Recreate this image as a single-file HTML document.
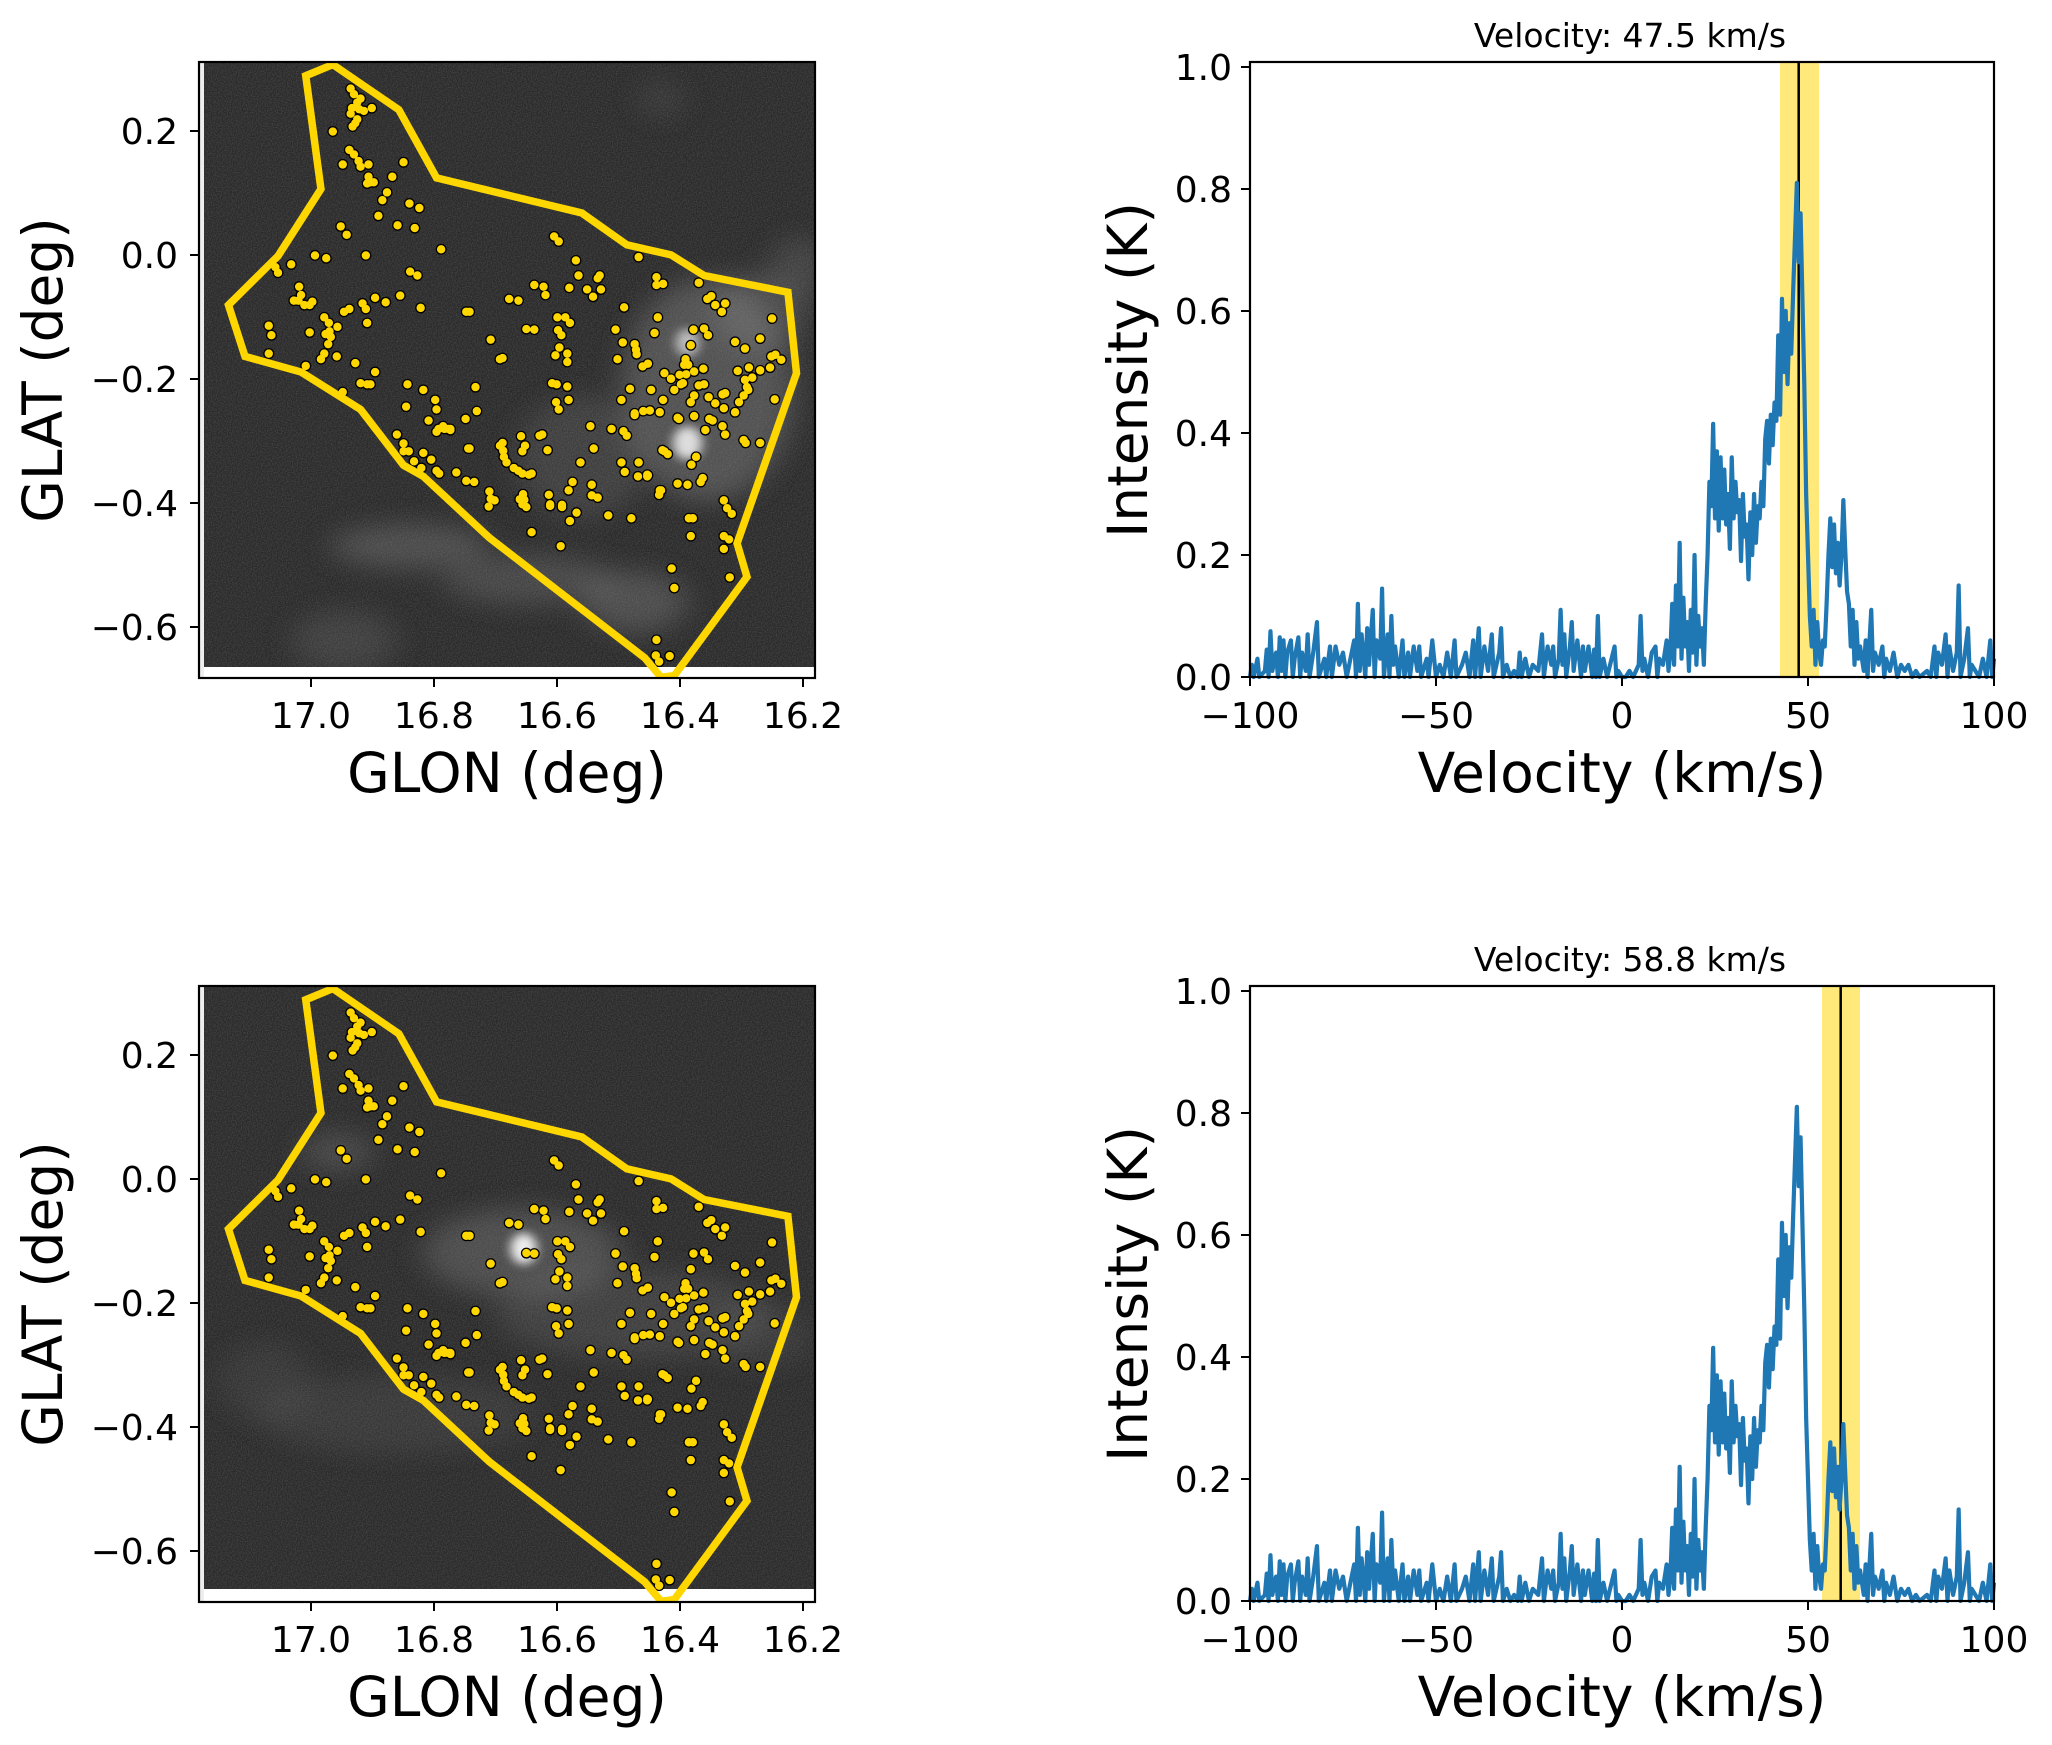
<!DOCTYPE html>
<html><head><meta charset="utf-8"><style>
html,body{margin:0;padding:0;background:#fff}
svg{display:block}
text{font-family:"DejaVu Sans","Liberation Sans",sans-serif;fill:#000}
.t{font-size:36px}
.l{font-size:55px}
.ti{font-size:33px}
</style></head><body>
<svg width="2052" height="1745" viewBox="0 0 2052 1745" xmlns="http://www.w3.org/2000/svg">
<defs>
<clipPath id="cl"><rect x="199" y="62" width="616" height="616"/></clipPath>
<filter id="noise" x="0" y="0" width="100%" height="100%">
<feTurbulence type="fractalNoise" baseFrequency="0.8" numOctaves="1" seed="3"/>
<feColorMatrix type="matrix" values="0 0 0 0 1  0 0 0 0 1  0 0 0 0 1  1.2 0 0 0 -0.4"/>
</filter>
<filter id="blur" x="-50%" y="-50%" width="200%" height="200%"><feGaussianBlur stdDeviation="22"/></filter>
<filter id="blur2" x="-50%" y="-50%" width="200%" height="200%"><feGaussianBlur stdDeviation="8"/></filter>

<path id="dp" d="M530,160h0M535,170h0M540,185h0M545,178h0M532,195h0M543,197h0M530,205h0M540,215h0M537,222h0M533,228h0M550,200h0M562,195h0M503,237h0M528,270h0M535,278h0M542,290h0M518,296h0M545,300h0M557,296h0M557,318h0M560,328h0M555,330h0M565,328h0M593,318h0M610,292h0M585,346h0M578,360h0M619,366h0M634,374h0M572,388h0M601,405h0M627,410h0M515,407h0M524,422h0M667,448h0M476,459h0M493,464h0M553,459h0M440,475h0M416,480h0M620,488h0M631,495h0M605,531h0M636,553h0M567,535h0M583,543h0M548,545h0M553,555h0M520,560h0M528,555h0M455,530h0M452,515h0M451,540h0M460,548h0M444,540h0M468,548h0M472,542h0M490,570h0M497,580h0M498,595h0M500,605h0M496,618h0M490,635h0M485,645h0M509,640h0M406,585h0M410,602h0M406,635h0M462,657h0M555,580h0M537,652h0M567,668h0M545,688h0M555,690h0M560,690h0M518,704h0M616,690h0M614,730h0M640,700h0M658,718h0M660,735h0M660,775h0M648,755h0M672,770h0M663,770h0M681,770h0M610,796h0M610,810h0M626,828h0M637,840h0M710,560h0M705,560h0M742,610h0M760,643h0M756,645h0M719,695h0M721,738h0M704,752h0M708,805h0M770,537h0M784,540h0M808,512h0M822,515h0M825,530h0M796,591h0M808,592h0M838,425h0M845,434h0M843,570h0M855,570h0M849,602h0M862,580h0M844,593h0M858,635h0M861,517h0M875,495h0M871,468h0M888,520h0M907,495h0M897,533h0M904,500h0M909,520h0M931,592h0M944,552h0M960,618h0M962,628h0M990,598h0M995,570h0M993,512h0M993,498h0M1003,510h0M966,462h0M1057,508h0M1070,537h0M1076,532h0M1082,548h0M1092,560h0M1097,545h0M1065,590h0M1049,592h0M1071,602h0M1045,620h0M1037,645h0M1041,655h0M1038,672h0M1050,667h0M1064,662h0M1065,690h0M1057,692h0M1072,713h0M1093,708h0M1097,706h0M1082,724h0M1028,673h0M1015,680h0M1005,670h0M1033,688h0M1030,690h0M1025,750h0M1050,747h0M1073,752h0M1067,772h0M1053,820h0M1046,834h0M1063,858h0M1060,865h0M1010,815h0M1005,810h0M1002,808h0M1040,870h0M1025,868h0M1000,880h0M997,888h0M1095,898h0M1100,912h0M1107,922h0M1095,962h0M1095,985h0M1103,968h0M1104,1036h0M1042,930h0M1045,962h0M1016,1020h0M1020,1055h0M993,1148h0M992,1176h0M997,1187h0M1013,1177h0M1112,614h0M1116,666h0M1133,660h0M1138,678h0M1130,695h0M1118,722h0M1112,740h0M1125,710h0M1150,608h0M1127,626h0M1167,640h0M1173,637h0M1182,646h0M1168,572h0M1165,660h0M1150,665h0M1172,717h0M1128,795h0M1125,790h0M1150,795h0M940,718h0M960,742h0M960,745h0M983,737h0M943,774h0M948,782h0M925,770h0M940,830h0M965,855h0M966,830h0M979,852h0M945,847h0M980,853h0M920,925h0M955,930h0M893,765h0M898,805h0M866,865h0M860,880h0M878,830h0M872,920h0M862,935h0M850,906h0M830,888h0M832,905h0M800,852h0M794,800h0M788,783h0M790,810h0M762,820h0M766,830h0M777,840h0M784,845h0M790,850h0M804,850h0M760,795h0M756,800h0M761,809h0M740,882h0M742,895h0M748,898h0M739,909h0M791,887h0M786,896h0M790,905h0M796,910h0M793,897h0M804,955h0M832,908h0M850,910h0M835,688h0M842,690h0M858,694h0M841,722h0M845,735h0M860,718h0M848,980h0M670,765h0M678,770h0M681,772h0M660,845h0M664,850h0M710,805h0M717,865h0M690,848h0M705,863h0M640,813h0M652,825h0M895,870h0M895,889h0M904,893h0M816,782h0M828,808h0M820,780h0M858,650h0M840,638h0M846,624h0M942,615h0M934,645h0M963,636h0M972,658h0M980,653h0M953,698h0M998,740h0M973,738h0M979,855h0M998,880h0M1027,752h0M1003,718h0M985,700h0M1020,700h0M1035,655h0M1078,755h0M1093,765h0M1097,780h0M1048,930h0M420,490h0M468,597h0M492,600h0M510,587h0M600,780h0M618,810h0M1132,700h0M1127,682h0M1095,733h0M1045,722h0M1050,710h0" fill="none" stroke-linecap="round" vector-effect="non-scaling-stroke"/>

<g id="dots" transform="translate(0.6,-0.7) scale(0.6605,0.558)">
<use href="#dp" stroke="#000" stroke-width="11"/>
<use href="#dp" stroke="#FFD700" stroke-width="8.4"/>
<path d="M462,137 L503,117 L603,198 L660,320 L880,383 L948,440 L1015,458 L1065,495 L1192,525 L1205,670 L1115,975 L1130,1035 L1020,1212 L1000,1215 L975,1180 L740,965 L640,855 L610,835 L545,735 L455,668 L370,640 L345,548 L420,460 L485,340 Z" fill="none" stroke="#FFD700" stroke-width="7.5" stroke-linejoin="miter" vector-effect="non-scaling-stroke"/>
</g>

<g id="imgAxes">
<rect x="199" y="62" width="616" height="616" fill="none" stroke="#000" stroke-width="2.2"/>
<g stroke="#000" stroke-width="2">
<path d="M311,678v9M434,678v9M557,678v9M680,678v9M803,678v9"/>
<path d="M199,131h-9M199,255h-9M199,379h-9M199,503h-9M199,627h-9"/>
</g>
<g class="t" text-anchor="middle">
<text x="311" y="728">17.0</text><text x="434" y="728">16.8</text><text x="557" y="728">16.6</text><text x="680" y="728">16.4</text><text x="803" y="728">16.2</text>
</g>
<g class="t" text-anchor="end">
<text x="178" y="144">0.2</text><text x="178" y="268">0.0</text><text x="178" y="392">−0.2</text><text x="178" y="516">−0.4</text><text x="178" y="640">−0.6</text>
</g>
<text class="l" x="507" y="792" text-anchor="middle">GLON (deg)</text>
<text class="l" transform="translate(62,370) rotate(-90)" text-anchor="middle">GLAT (deg)</text>
</g>

<g id="specBase">
<g transform="matrix(3.72,0,0,-610,1622,677)">
<polyline fill="none" stroke="#1f77b4" stroke-width="4.2" stroke-linejoin="round" vector-effect="non-scaling-stroke" points="-100,0 -99.5,0.02 -99,0 -98,0.03 -97.5,0 -96,0.01 -95.5,0.045 -95,0 -94.5,0.075 -94,0.01 -93,0.04 -92.5,0 -92,0.065 -91.5,0.01 -91,0.06 -90.5,0 -90,0.04 -89,0.06 -88.5,0 -88,0.03 -87,0.065 -86.5,0 -86,0.04 -85,0.01 -84.5,0.07 -84,0 -83,0.04 -82,0.09 -81.5,0 -80,0.03 -79.5,0 -78.5,0.05 -78,0 -77,0.05 -76,0.02 -75,0.04 -74,0 -73,0.03 -72,0.06 -71.5,0 -71,0.12 -70.5,0.01 -70,0.07 -69,0 -68.5,0.08 -68,0.02 -67,0.11 -66.5,0 -66,0.06 -65,0.03 -64.5,0.145 -64,0 -63,0.07 -62.5,0 -62,0.1 -61.5,0.02 -61,0.05 -60,0 -59,0.06 -58.5,0 -57.5,0.04 -57,0 -56,0.05 -55,0.01 -54.5,0.05 -54,0 -52.5,0.03 -52,0 -51,0.06 -50,0 -49,0.02 -48,0 -47,0.04 -46,0 -45,0.06 -44.5,0 -43,0.02 -42,0.04 -41,0 -40,0.06 -39.5,0 -38.5,0.08 -38,0 -37,0.05 -36,0.01 -35,0.07 -34.5,0 -33,0.04 -32.5,0.08 -32,0 -31,0.02 -30,0 -29,0.01 -28,0 -27.5,0.04 -27,0 -26,0.03 -25,0 -24,0.02 -22.5,0.01 -21.5,0.07 -21,0 -20,0.05 -19,0.02 -18.5,0.05 -18,0 -17,0.03 -16.5,0.11 -16,0.02 -15.5,0.07 -15,0 -14,0.05 -13.5,0.09 -13,0.01 -12,0.06 -11,0 -10.5,0.05 -10,0.01 -9,0.05 -8,0 -7.5,0.045 -7,0 -6.5,0.1 -6,0 -5,0.03 -4,0 -2,0.05 -1.5,0 -1,0.01 0,0 1,0 2,0.01 3,0 4.5,0.02 5,0.1 5.5,0.01 6,0.03 7,0 8,0.04 9,0.05 9.5,0 10,0.03 11,0.02 12,0.06 12.5,0.01 13,0.04 13.5,0.12 14,0.02 14.5,0.15 15,0.05 15.5,0.22 16,0.03 16.5,0.13 17,0.05 17.5,0.09 18,0.01 18.5,0.11 19,0.04 19.5,0.2 20,0.02 20.5,0.1 21,0.05 21.5,0.08 22,0.02 22.5,0.12 23,0.2 23.5,0.32 24,0.28 24.5,0.415 25,0.26 25.5,0.37 26,0.24 26.5,0.36 27,0.26 27.5,0.34 28,0.25 28.5,0.3 29,0.21 29.5,0.36 30,0.26 30.5,0.32 31,0.27 31.5,0.29 32,0.19 32.5,0.3 33,0.23 33.5,0.25 34,0.16 34.5,0.27 35,0.2 35.5,0.3 36,0.22 36.5,0.28 37,0.26 37.5,0.32 38,0.28 38.5,0.39 39,0.42 39.5,0.35 40,0.43 40.5,0.38 41,0.45 41.5,0.42 42,0.56 42.5,0.43 43,0.62 43.5,0.5 44,0.6 44.5,0.48 45,0.58 45.5,0.53 46,0.63 46.5,0.72 47,0.81 47.5,0.68 48,0.76 48.5,0.62 49,0.48 49.5,0.3 50,0.2 50.5,0.1 51,0.05 51.5,0.11 52,0.02 52.5,0.09 53,0.04 53.5,0.02 54,0.06 54.5,0.05 55,0.12 55.5,0.2 56,0.26 56.5,0.18 57,0.25 57.5,0.17 58,0.22 58.5,0.15 59,0.2 59.5,0.29 60,0.21 60.5,0.14 61,0.12 61.5,0.05 62,0.11 62.5,0.02 63,0.09 63.5,0.03 64,0.05 65,0.01 65.5,0.06 66,0 67,0.11 67.5,0.01 68,0.04 69,0.02 70,0.05 70.5,0 71,0.03 72,0.01 73,0.04 74,0 75,0.02 76,0.01 77,0.02 78,0 79,0.01 80,0 82,0.01 83,0 84,0.05 84.5,0 85,0.04 86,0.02 87,0.07 87.5,0 88,0.05 89,0.01 90,0.04 90.5,0.15 91,0 92,0.03 93,0.08 93.5,0 94,0.02 96,0 97,0.03 98,0 99,0.06 99.5,0 100,0.03"/>
</g>
<rect x="1250" y="62" width="744" height="615" fill="none" stroke="#000" stroke-width="2.2"/>
<g stroke="#000" stroke-width="2">
<path d="M1250,677v9M1436,677v9M1622,677v9M1808,677v9M1994,677v9"/>
<path d="M1250,677h-9M1250,555h-9M1250,433h-9M1250,311h-9M1250,189h-9M1250,67h-9"/>
</g>
<g class="t" text-anchor="middle">
<text x="1250" y="728">−100</text><text x="1436" y="728">−50</text><text x="1622" y="728">0</text><text x="1808" y="728">50</text><text x="1994" y="728">100</text>
</g>
<g class="t" text-anchor="end">
<text x="1232" y="690">0.0</text><text x="1232" y="568">0.2</text><text x="1232" y="446">0.4</text><text x="1232" y="324">0.6</text><text x="1232" y="202">0.8</text><text x="1232" y="80">1.0</text>
</g>
<text class="l" x="1622" y="792" text-anchor="middle">Velocity (km/s)</text>
<text class="l" transform="translate(1147,370) rotate(-90)" text-anchor="middle">Intensity (K)</text>
</g>
</defs>

<!-- TOP LEFT IMAGE -->
<g clip-path="url(#cl)">
<rect x="199" y="62" width="616" height="616" fill="#2a2a2a"/>
<rect x="199" y="62" width="616" height="616" filter="url(#noise)" opacity="0.22"/>
<g transform="translate(0.6,-0.7) scale(0.6605,0.558)">
<g filter="url(#blur)" fill="#9a9a9a">
<ellipse cx="1070" cy="700" rx="130" ry="200" opacity="0.35"/>
<ellipse cx="1150" cy="560" rx="70" ry="70" opacity="0.25"/>
<ellipse cx="620" cy="980" rx="120" ry="40" opacity="0.3"/>
<ellipse cx="800" cy="1040" rx="130" ry="45" opacity="0.25"/>
<ellipse cx="960" cy="1080" rx="80" ry="55" opacity="0.3"/>
<ellipse cx="520" cy="1150" rx="80" ry="55" opacity="0.18"/>
<ellipse cx="880" cy="820" rx="100" ry="110" opacity="0.18"/>
<ellipse cx="1210" cy="480" rx="45" ry="55" opacity="0.2"/>
<ellipse cx="1000" cy="180" rx="35" ry="35" opacity="0.12"/>
</g>
<g filter="url(#blur2)" fill="#fff">
<ellipse cx="1040" cy="795" rx="22" ry="30" opacity="0.8"/>
<ellipse cx="1040" cy="615" rx="18" ry="25" opacity="0.6"/>
</g>
</g>
<rect x="199" y="667" width="616" height="11" fill="#fff"/>
<rect x="199" y="62" width="5" height="616" fill="#eee"/>
<use href="#dots"/>
</g>
<use href="#imgAxes"/>

<!-- TOP RIGHT SPECTRUM -->
<rect x="1780" y="62" width="39" height="615" fill="#ffe97a"/>
<line x1="1798.7" y1="62" x2="1798.7" y2="677" stroke="#000" stroke-width="2.5"/>
<use href="#specBase"/>
<text class="ti" x="1630" y="47" text-anchor="middle">Velocity: 47.5 km/s</text>

<!-- BOTTOM LEFT IMAGE -->
<g transform="translate(0,924)">
<g clip-path="url(#cl)">
<rect x="199" y="62" width="616" height="616" fill="#2a2a2a"/>
<rect x="199" y="62" width="616" height="616" filter="url(#noise)" opacity="0.22"/>
<g transform="translate(0.6,-0.7) scale(0.6605,0.558)">
<g filter="url(#blur)" fill="#9a9a9a">
<ellipse cx="790" cy="590" rx="150" ry="80" opacity="0.3"/>
<ellipse cx="960" cy="700" rx="210" ry="80" opacity="0.18"/>
<ellipse cx="510" cy="410" rx="55" ry="35" opacity="0.25"/>
<ellipse cx="600" cy="880" rx="210" ry="70" opacity="0.12"/>
<ellipse cx="400" cy="820" rx="70" ry="70" opacity="0.1"/>
<ellipse cx="1150" cy="740" rx="80" ry="55" opacity="0.12"/>
</g>
<g filter="url(#blur2)" fill="#fff">
<ellipse cx="792" cy="583" rx="20" ry="28" opacity="0.9"/>
</g>
</g>
<rect x="199" y="665" width="616" height="13" fill="#fff"/>
<rect x="199" y="62" width="5" height="616" fill="#eee"/>
<use href="#dots"/>
</g>
<use href="#imgAxes"/>

<!-- BOTTOM RIGHT SPECTRUM -->
<rect x="1822" y="62" width="38" height="615" fill="#ffe97a"/>
<line x1="1840.7" y1="62" x2="1840.7" y2="677" stroke="#000" stroke-width="2.5"/>
<use href="#specBase"/>
<text class="ti" x="1630" y="47" text-anchor="middle">Velocity: 58.8 km/s</text>
</g>
</svg>
</body></html>
